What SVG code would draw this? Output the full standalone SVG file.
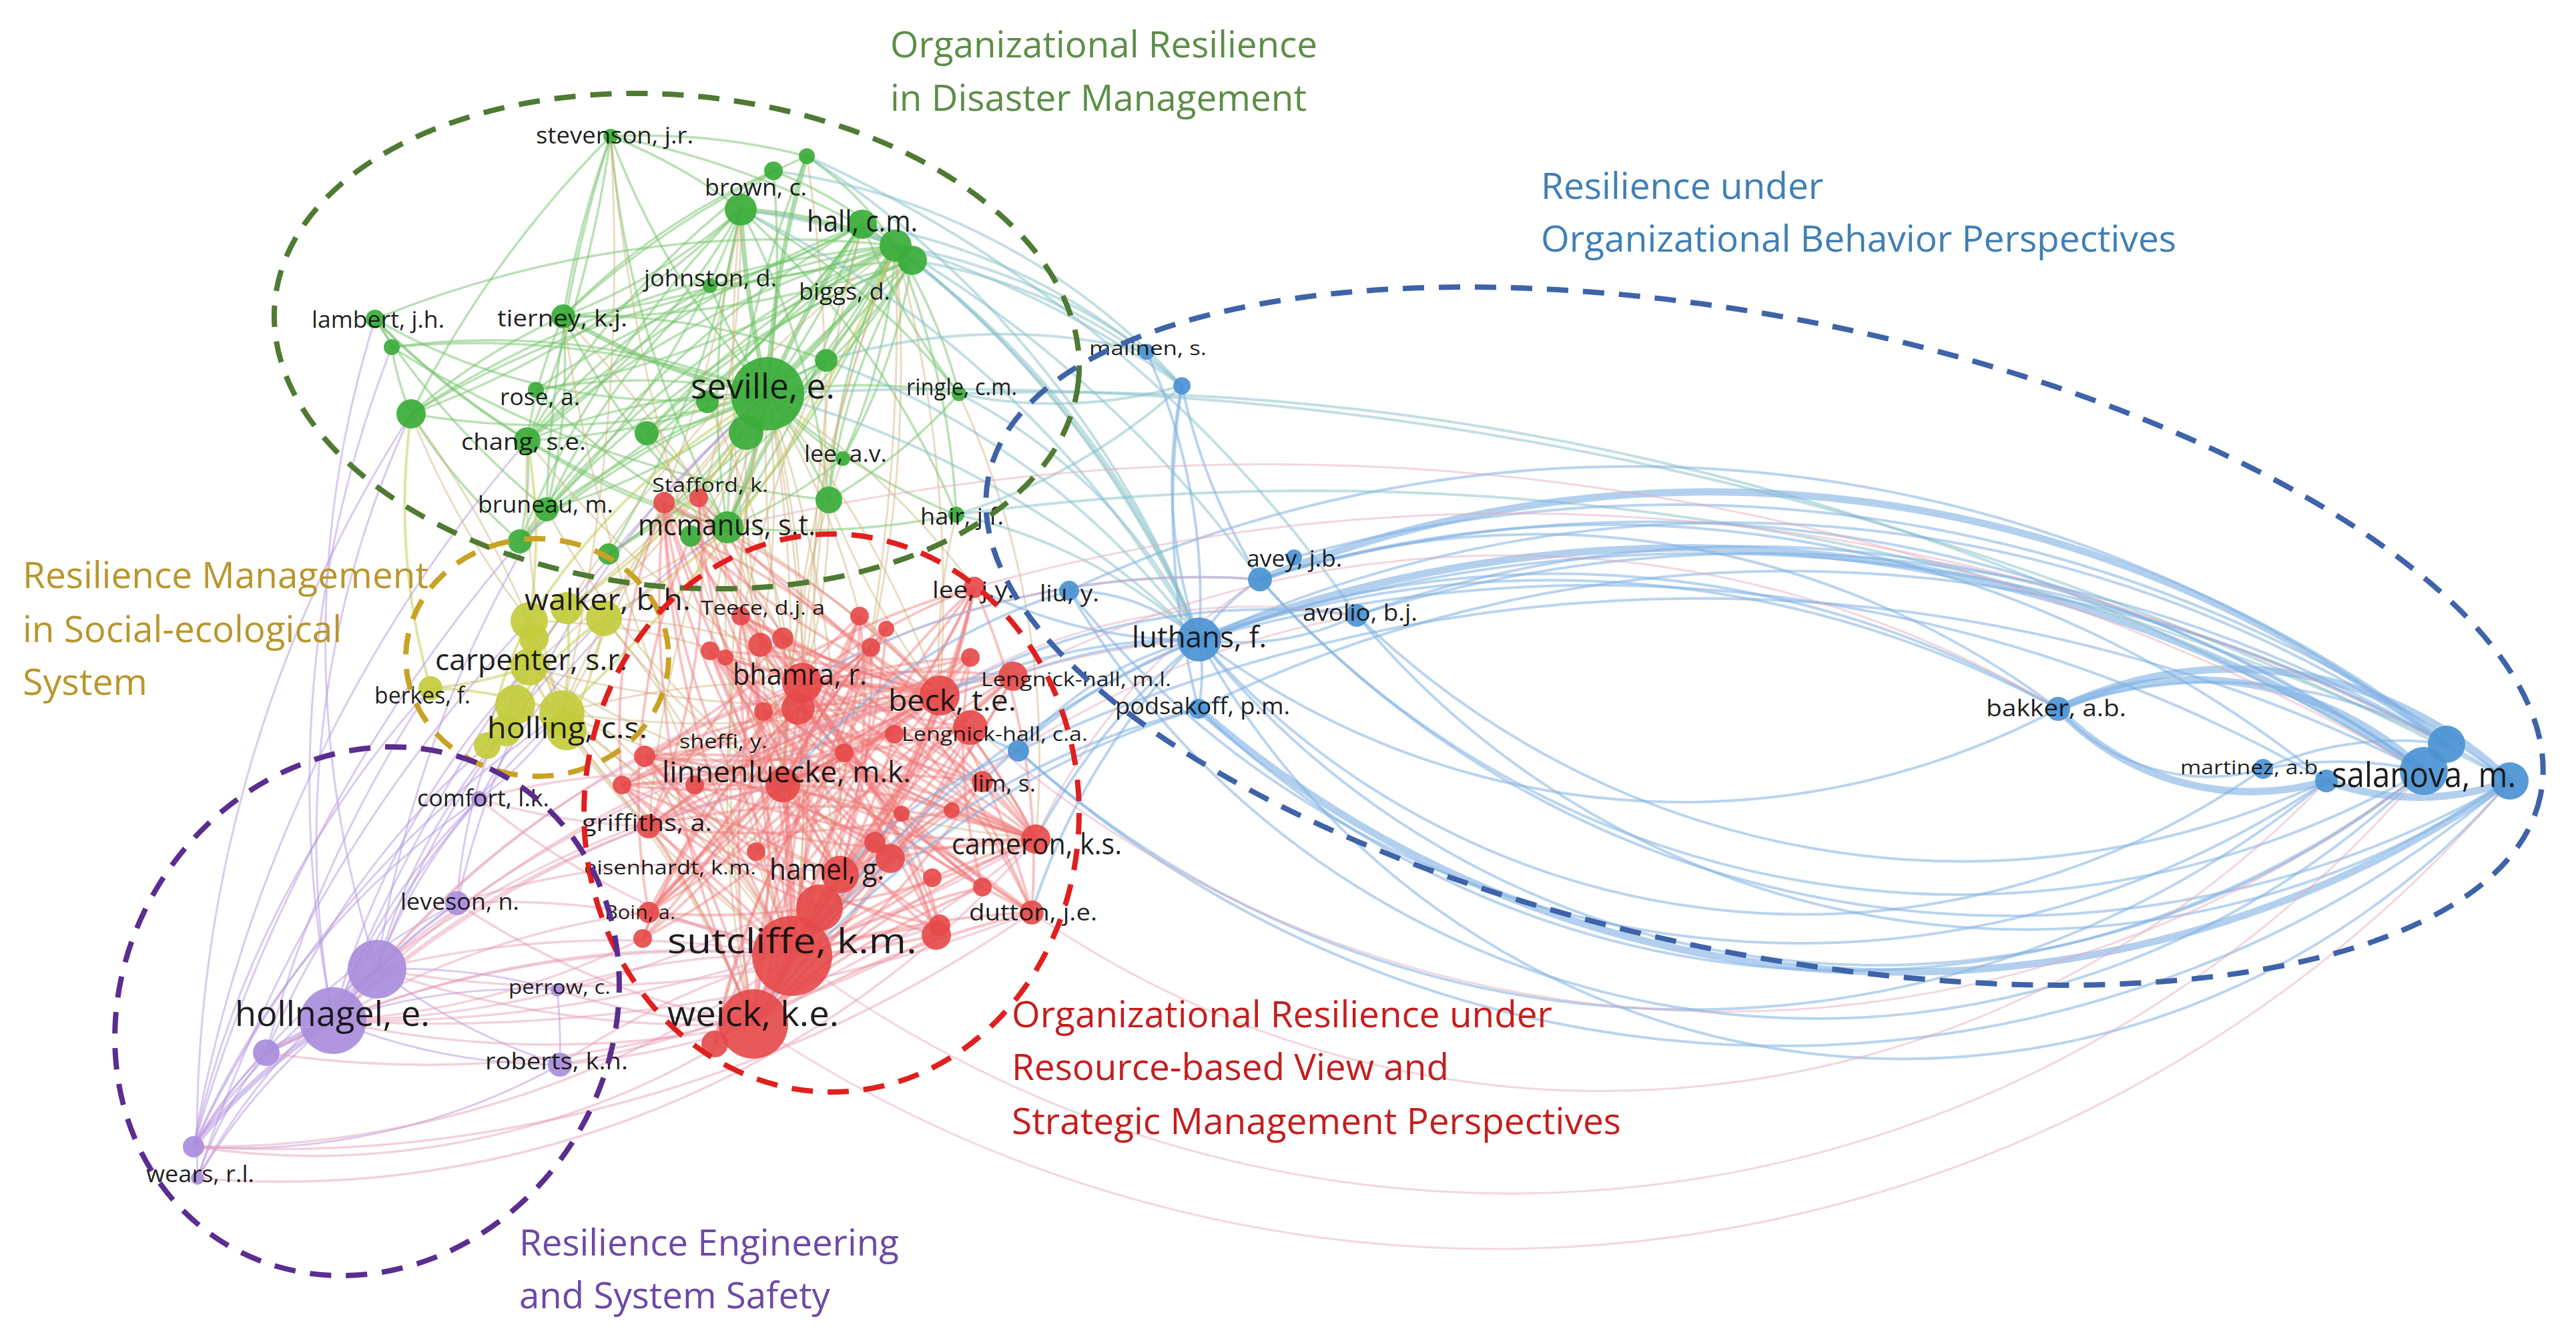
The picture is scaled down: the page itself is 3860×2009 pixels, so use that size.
<svg xmlns="http://www.w3.org/2000/svg" width="3860" height="2009" viewBox="0 0 3860 2009">
<style>
path{fill:none;stroke-linecap:round}
.eg path{stroke:#74c46a;stroke-opacity:.5;stroke-width:3.5}
.egt path{stroke:#6cc062;stroke-opacity:.55;stroke-width:7}
.eo path{stroke:#cdb27a;stroke-opacity:.45;stroke-width:3}
.er path{stroke:#f07a7a;stroke-opacity:.45;stroke-width:4}
.ert path{stroke:#f07070;stroke-opacity:.5;stroke-width:8}
.ey path{stroke:#c9cc5a;stroke-opacity:.55;stroke-width:4}
.ep path{stroke:#b596e0;stroke-opacity:.5;stroke-width:3}
.ept path{stroke:#b596e0;stroke-opacity:.55;stroke-width:8}
.epk path{stroke:#e59ab2;stroke-opacity:.45;stroke-width:3.5}
.eb path{stroke:#7fb0e2;stroke-opacity:.55;stroke-width:4}
.ebt path{stroke:#7fb0e2;stroke-opacity:.6;stroke-width:11}
.et path{stroke:#86c0c8;stroke-opacity:.5;stroke-width:4}
.ebk path{stroke:#e3a5b5;stroke-opacity:.45;stroke-width:3}
.ng circle{fill:#3aad3a;fill-opacity:.92}
.nr circle{fill:#e64848;fill-opacity:.9}
.ny circle{fill:#c3cc3c;fill-opacity:.92}
.nb circle{fill:#4b93d3;fill-opacity:.92}
.np circle{fill:#a98ddb;fill-opacity:.92}
text{font-family:'Open Sans','Liberation Sans',sans-serif}
.lab{fill:#111111;fill-opacity:.95}
.lx{font-size:51px}
.ll{font-size:43px}
.lm{font-size:35px}
.ls{font-size:29px}
.title{font-size:55px}
.hull{fill:none;stroke-width:8;stroke-dasharray:32 22}
</style>
<rect width="3860" height="2009" fill="#ffffff"/>

<g id="connectors">
<g class="eg">
<path d="M1150 590A1200 1200 0 0 1 915 204"/>
<path d="M1150 590A1500 1500 0 0 0 1159 256"/>
<path d="M1150 590A1200 1200 0 0 0 1292 336"/>
<path d="M1150 590A1200 1200 0 0 1 1367 390"/>
<path d="M1150 590A900 900 0 0 1 1064 428"/>
<path d="M1150 590A600 600 0 0 1 1238 540"/>
<path d="M1150 590A900 900 0 0 1 562 478"/>
<path d="M1150 590A1100 1100 0 0 0 587 520"/>
<path d="M1150 590A800 800 0 0 1 1437 590"/>
<path d="M1150 590A900 900 0 0 0 803 584"/>
<path d="M1150 590A1200 1200 0 0 1 616 620"/>
<path d="M1150 590A600 600 0 0 1 969 649"/>
<path d="M1150 590A900 900 0 0 0 790 660"/>
<path d="M1150 590A600 600 0 0 0 1263 687"/>
<path d="M1150 590A700 700 0 0 1 1242 749"/>
<path d="M1150 590A900 900 0 0 1 819 763"/>
<path d="M1150 590A900 900 0 0 0 1433 771"/>
<path d="M1150 590A1000 1000 0 0 0 779 811"/>
<path d="M1150 590A800 800 0 0 1 912 830"/>
<path d="M1342 368A1300 1300 0 0 0 915 204"/>
<path d="M1342 368A1600 1600 0 0 0 562 478"/>
<path d="M1342 368A1600 1600 0 0 0 616 620"/>
<path d="M1342 368A1400 1400 0 0 0 790 660"/>
<path d="M1342 368A1400 1400 0 0 1 803 584"/>
<path d="M1342 368A1400 1400 0 0 0 819 763"/>
<path d="M1342 368A1000 1000 0 0 0 1242 749"/>
<path d="M1342 368A1200 1200 0 0 1 1433 771"/>
<path d="M1342 368A800 800 0 0 1 1437 590"/>
<path d="M1342 368A1000 1000 0 0 1 1064 428"/>
<path d="M1342 368A1200 1200 0 0 0 969 649"/>
<path d="M1367 390A1300 1300 0 0 1 912 830"/>
<path d="M1367 390A1500 1500 0 0 0 779 811"/>
<path d="M1367 390A900 900 0 0 1 1263 687"/>
<path d="M1367 390A1200 1200 0 0 0 1090 790"/>
<path d="M1292 336A900 900 0 0 1 1064 428"/>
<path d="M1292 336A1200 1200 0 0 1 844 474"/>
<path d="M1292 336A1200 1200 0 0 1 969 649"/>
<path d="M1110 314A900 900 0 0 1 844 474"/>
<path d="M1110 314A1000 1000 0 0 1 790 660"/>
<path d="M1110 314A1200 1200 0 0 1 819 763"/>
<path d="M1110 314A1200 1200 0 0 0 1090 790"/>
<path d="M1110 314A1400 1400 0 0 1 616 620"/>
<path d="M1110 314A1200 1200 0 0 1 1242 749"/>
<path d="M915 204A1800 1800 0 0 1 790 660"/>
<path d="M915 204A2000 2000 0 0 0 819 763"/>
<path d="M915 204A800 800 0 0 1 1110 314"/>
<path d="M915 204A1000 1000 0 0 1 1209 234"/>
<path d="M915 204A1500 1500 0 0 0 1090 790"/>
<path d="M1209 234A500 500 0 0 1 1342 368"/>
<path d="M1159 256A600 600 0 0 1 1367 390"/>
<path d="M1209 234A1500 1500 0 0 0 1090 790"/>
<path d="M1159 256A1000 1000 0 0 0 844 474"/>
<path d="M562 478A200 200 0 0 1 587 520"/>
<path d="M587 520A400 400 0 0 0 616 620"/>
<path d="M616 620A800 800 0 0 0 779 811"/>
<path d="M562 478A1200 1200 0 0 0 1090 790"/>
<path d="M587 520A1500 1500 0 0 0 1242 749"/>
<path d="M844 474A700 700 0 0 0 790 660"/>
<path d="M844 474A900 900 0 0 1 819 763"/>
<path d="M844 474A1000 1000 0 0 0 1090 790"/>
<path d="M790 660A900 900 0 0 0 1090 790"/>
<path d="M790 660A500 500 0 0 1 779 811"/>
<path d="M803 584A1000 1000 0 0 0 1090 790"/>
<path d="M969 649A500 500 0 0 1 1090 790"/>
<path d="M1238 540A800 800 0 0 0 1090 790"/>
<path d="M1263 687A700 700 0 0 1 1090 790"/>
<path d="M1433 771A1200 1200 0 0 1 1090 790"/>
<path d="M1437 590A800 800 0 0 1 1242 749"/>
<path d="M844 474A900 900 0 0 0 616 620"/>
<path d="M562 478A1100 1100 0 0 0 790 660"/>
<path d="M562 478A1300 1300 0 0 0 819 763"/>
<path d="M587 520A1300 1300 0 0 1 1150 590"/>
<path d="M803 584A1300 1300 0 0 1 1342 368"/>
<path d="M969 649A1100 1100 0 0 1 1367 390"/>
<path d="M1064 428A900 900 0 0 0 790 660"/>
<path d="M1064 428A1000 1000 0 0 0 819 763"/>
<path d="M1238 540A1100 1100 0 0 1 790 660"/>
<path d="M1238 540A1000 1000 0 0 0 844 474"/>
<path d="M1263 687A900 900 0 0 0 1342 368"/>
<path d="M1242 749A900 900 0 0 1 1367 390"/>
<path d="M1433 771A1300 1300 0 0 0 1110 314"/>
<path d="M1437 590A1100 1100 0 0 0 1110 314"/>
<path d="M1060 602A900 900 0 0 1 1342 368"/>
<path d="M1118 648A1000 1000 0 0 0 1367 390"/>
<path d="M779 811A1300 1300 0 0 1 1150 590"/>
<path d="M912 830A1300 1300 0 0 0 1342 368"/>
<path d="M779 811A1600 1600 0 0 1 1292 336"/>
<path d="M915 204A1500 1500 0 0 0 844 474"/>
<path d="M915 204A1600 1600 0 0 0 616 620"/>
<path d="M1159 256A1300 1300 0 0 0 790 660"/>
<path d="M1209 234A1300 1300 0 0 0 844 474"/>
<path d="M1292 336A1500 1500 0 0 0 790 660"/>
<path d="M1292 336A1600 1600 0 0 1 819 763"/>
<path d="M1292 336A1300 1300 0 0 1 1090 790"/>
<path d="M1367 390A1700 1700 0 0 0 616 620"/>
<path d="M1367 390A1500 1500 0 0 1 844 474"/>
<path d="M1110 314A1500 1500 0 0 0 779 811"/>
<path d="M1110 314A1500 1500 0 0 1 912 830"/>
<path d="M1342 368A1000 1000 0 0 1 1238 540"/>
<path d="M1342 368A1300 1300 0 0 1 1090 790"/>
<path d="M1292 336A1100 1100 0 0 0 1437 590"/>
</g>
<g class="egt">
<path d="M1150 590A1200 1200 0 0 0 1342 368"/>
<path d="M1150 590A1500 1500 0 0 1 1110 314"/>
<path d="M1150 590A900 900 0 0 1 844 474"/>
<path d="M1150 590A800 800 0 0 1 1090 790"/>
<path d="M1342 368A700 700 0 0 0 1110 314"/>
<path d="M1150 590A1500 1500 0 0 1 1209 234"/>
<path d="M1150 590A1300 1300 0 0 1 1292 336"/>
</g>
<g class="eo">
<path d="M1150 590A900 900 0 0 0 995 753"/>
<path d="M1150 590A900 900 0 0 1 1035 803"/>
<path d="M1150 590A1200 1200 0 0 0 1110 923"/>
<path d="M1150 590A1200 1200 0 0 1 1139 966"/>
<path d="M1150 590A1500 1500 0 0 1 1202 1023"/>
<path d="M1150 590A1500 1500 0 0 0 1196 1061"/>
<path d="M1150 590A2000 2000 0 0 1 1173 1176"/>
<path d="M1150 590A1500 1500 0 0 1 1408 1042"/>
<path d="M1150 590A1200 1200 0 0 1 1288 923"/>
<path d="M1150 590A1500 1500 0 0 0 1064 975"/>
<path d="M1150 590A2500 2500 0 0 1 1187 1432"/>
<path d="M1150 590A2500 2500 0 0 0 1129 1534"/>
<path d="M1150 590A2000 2000 0 0 1 1259 1310"/>
<path d="M1150 590A1800 1800 0 0 0 972 1238"/>
<path d="M1150 590A1200 1200 0 0 0 905 926"/>
<path d="M1150 590A1200 1200 0 0 1 849 911"/>
<path d="M1150 590A1500 1500 0 0 0 842 1068"/>
<path d="M1150 590A1500 1500 0 0 1 793 999"/>
<path d="M1150 590A1200 1200 0 0 1 1460 880"/>
<path d="M1342 368A2000 2000 0 0 0 1202 1023"/>
<path d="M1342 368A2000 2000 0 0 1 1408 1042"/>
<path d="M1342 368A2500 2500 0 0 0 1173 1176"/>
<path d="M1342 368A3000 3000 0 0 1 1187 1432"/>
<path d="M1342 368A2000 2000 0 0 0 849 911"/>
<path d="M1342 368A2000 2000 0 0 1 1305 970"/>
<path d="M1110 314A2200 2200 0 0 0 1139 966"/>
<path d="M1110 314A2200 2200 0 0 1 842 1068"/>
<path d="M1110 314A1500 1500 0 0 1 1035 803"/>
<path d="M1090 790A1200 1200 0 0 1 1173 1176"/>
<path d="M1090 790A1500 1500 0 0 0 1187 1432"/>
<path d="M1090 790A800 800 0 0 1 849 911"/>
<path d="M1090 790A1500 1500 0 0 1 1408 1042"/>
<path d="M790 660A1500 1500 0 0 0 1202 1023"/>
<path d="M790 660A1200 1200 0 0 0 842 1068"/>
<path d="M915 204A3000 3000 0 0 0 1173 1176"/>
<path d="M915 204A3000 3000 0 0 1 842 1068"/>
<path d="M844 474A2500 2500 0 0 0 1187 1432"/>
<path d="M844 474A1800 1800 0 0 1 1202 1023"/>
<path d="M1242 749A900 900 0 0 1 1202 1023"/>
<path d="M1242 749A1200 1200 0 0 0 1408 1042"/>
<path d="M1263 687A1500 1500 0 0 0 1173 1176"/>
<path d="M616 620A1200 1200 0 0 0 793 930"/>
<path d="M616 620A1500 1500 0 0 1 842 1068"/>
<path d="M842 1068A1500 1500 0 0 0 1173 1176"/>
<path d="M842 1068A1500 1500 0 0 1 1187 1432"/>
<path d="M842 1068A1200 1200 0 0 1 1202 1023"/>
<path d="M842 1068A1500 1500 0 0 0 1408 1042"/>
<path d="M842 1068A1200 1200 0 0 0 1259 1310"/>
<path d="M842 1068A1500 1500 0 0 1 1129 1534"/>
<path d="M842 1068A800 800 0 0 0 972 1238"/>
<path d="M905 926A900 900 0 0 1 1139 966"/>
<path d="M905 926A1100 1100 0 0 0 1173 1176"/>
<path d="M905 926A1500 1500 0 0 1 1187 1432"/>
<path d="M793 999A1500 1500 0 0 0 1408 1042"/>
<path d="M793 999A1800 1800 0 0 0 1552 1257"/>
<path d="M793 999A1500 1500 0 0 1 1187 1432"/>
<path d="M849 1094A1500 1500 0 0 0 1187 1432"/>
<path d="M849 1094A1500 1500 0 0 1 1129 1534"/>
<path d="M793 930A1000 1000 0 0 1 1202 1023"/>
<path d="M1060 602A1400 1400 0 0 1 1187 1432"/>
<path d="M1118 648A1400 1400 0 0 0 1259 1310"/>
<path d="M969 649A1200 1200 0 0 1 1173 1176"/>
<path d="M1292 336A2200 2200 0 0 0 1259 1310"/>
<path d="M1209 234A2500 2500 0 0 1 1202 1023"/>
<path d="M819 763A1300 1300 0 0 0 1173 1176"/>
<path d="M1238 540A1500 1500 0 0 0 1129 1534"/>
<path d="M1433 771A900 900 0 0 0 1408 1042"/>
<path d="M1437 590A1300 1300 0 0 1 1552 1257"/>
</g>
<g class="ey">
<path d="M793 930A400 400 0 0 1 793 999"/>
<path d="M793 930A500 500 0 0 0 842 1068"/>
<path d="M849 911A500 500 0 0 1 842 1068"/>
<path d="M905 926A500 500 0 0 1 849 1094"/>
<path d="M800 957A500 500 0 0 0 758 1094"/>
<path d="M793 999A400 400 0 0 0 849 1094"/>
<path d="M645 1031A600 600 0 0 1 842 1068"/>
<path d="M645 1031A600 600 0 0 0 793 999"/>
<path d="M772 1056A400 400 0 0 0 849 1094"/>
<path d="M849 911A600 600 0 0 0 758 1094"/>
<path d="M905 926A600 600 0 0 0 772 1056"/>
<path d="M793 930A600 600 0 0 0 730 1117"/>
<path d="M793 930A1000 1000 0 0 1 1150 590"/>
<path d="M793 930A800 800 0 0 0 790 660"/>
<path d="M849 911A900 900 0 0 0 1150 590"/>
<path d="M905 926A800 800 0 0 0 1090 790"/>
<path d="M645 1031A1000 1000 0 0 1 616 620"/>
<path d="M842 1068A2000 2000 0 0 0 1342 368"/>
</g>
<g class="er">
<path d="M1187 1432A1400 1400 0 0 1 995 753"/>
<path d="M1187 1432A1400 1400 0 0 0 1035 803"/>
<path d="M1187 1432A1400 1400 0 0 1 1110 923"/>
<path d="M1187 1432A1400 1400 0 0 0 1064 975"/>
<path d="M1187 1432A1400 1400 0 0 1 1139 966"/>
<path d="M1187 1432A1400 1400 0 0 0 1202 1023"/>
<path d="M1187 1432A1400 1400 0 0 1 1196 1061"/>
<path d="M1187 1432A1400 1400 0 0 0 1408 1042"/>
<path d="M1187 1432A1400 1400 0 0 1 1454 1090"/>
<path d="M1187 1432A1400 1400 0 0 0 1518 1013"/>
<path d="M1187 1432A1400 1400 0 0 1 1460 880"/>
<path d="M1187 1432A1400 1400 0 0 0 966 1133"/>
<path d="M1187 1432A1400 1400 0 0 1 932 1176"/>
<path d="M1187 1432A1400 1400 0 0 1 1472 1171"/>
<path d="M1187 1432A1400 1400 0 0 0 972 1238"/>
<path d="M1187 1432A1400 1400 0 0 1 1552 1257"/>
<path d="M1187 1432A1400 1400 0 0 0 1334 1286"/>
<path d="M1187 1432A1400 1400 0 0 1 1546 1367"/>
<path d="M1187 1432A1400 1400 0 0 0 972 1367"/>
<path d="M1187 1432A1400 1400 0 0 1 1472 1329"/>
<path d="M1187 1432A1400 1400 0 0 0 1288 923"/>
<path d="M1187 1432A1400 1400 0 0 1 1305 970"/>
<path d="M1187 1432A1400 1400 0 0 0 1454 985"/>
<path d="M1187 1432A1400 1400 0 0 1 1328 942"/>
<path d="M1187 1432A1400 1400 0 0 0 1351 1219"/>
<path d="M1187 1432A1400 1400 0 0 1 1426 1214"/>
<path d="M1129 1534A1500 1500 0 0 1 995 753"/>
<path d="M1129 1534A1500 1500 0 0 0 1110 923"/>
<path d="M1129 1534A1500 1500 0 0 1 1139 966"/>
<path d="M1129 1534A1500 1500 0 0 0 1202 1023"/>
<path d="M1129 1534A1500 1500 0 0 1 1408 1042"/>
<path d="M1129 1534A1500 1500 0 0 0 1454 1090"/>
<path d="M1129 1534A1500 1500 0 0 0 972 1238"/>
<path d="M1129 1534A1500 1500 0 0 1 1552 1257"/>
<path d="M1129 1534A1500 1500 0 0 0 1259 1310"/>
<path d="M1129 1534A1500 1500 0 0 1 1546 1367"/>
<path d="M1129 1534A1500 1500 0 0 0 966 1133"/>
<path d="M1129 1534A1500 1500 0 0 1 1288 923"/>
<path d="M1129 1534A1500 1500 0 0 0 1460 880"/>
<path d="M1129 1534A1500 1500 0 0 1 1518 1013"/>
<path d="M1129 1534A1500 1500 0 0 0 1472 1171"/>
<path d="M1129 1534A1500 1500 0 0 1 1305 970"/>
<path d="M1173 1176A1000 1000 0 0 1 1047 746"/>
<path d="M1173 1176A1000 1000 0 0 0 1288 923"/>
<path d="M1173 1176A1000 1000 0 0 1 1328 942"/>
<path d="M1173 1176A1000 1000 0 0 0 1173 956"/>
<path d="M1173 1176A1000 1000 0 0 1 1305 970"/>
<path d="M1173 1176A1000 1000 0 0 0 1454 985"/>
<path d="M1173 1176A1000 1000 0 0 1 1518 1013"/>
<path d="M1173 1176A1000 1000 0 0 1 1340 1100"/>
<path d="M1173 1176A1000 1000 0 0 0 966 1133"/>
<path d="M1173 1176A1000 1000 0 0 1 932 1176"/>
<path d="M1173 1176A1000 1000 0 0 0 1265 1128"/>
<path d="M1173 1176A1000 1000 0 0 1 1472 1171"/>
<path d="M1173 1176A1000 1000 0 0 0 972 1238"/>
<path d="M1173 1176A1000 1000 0 0 1 1552 1257"/>
<path d="M1173 1176A1000 1000 0 0 0 1334 1286"/>
<path d="M1173 1176A1000 1000 0 0 1 1259 1310"/>
<path d="M1173 1176A1000 1000 0 0 0 972 1367"/>
<path d="M1173 1176A1000 1000 0 0 1 1546 1367"/>
<path d="M1173 1176A1000 1000 0 0 0 1408 1386"/>
<path d="M1173 1176A1000 1000 0 0 1 963 1406"/>
<path d="M1408 1042A1200 1200 0 0 1 1110 923"/>
<path d="M1408 1042A1200 1200 0 0 0 1064 975"/>
<path d="M1408 1042A1200 1200 0 0 1 1087 985"/>
<path d="M1408 1042A1200 1200 0 0 0 1139 966"/>
<path d="M1408 1042A1200 1200 0 0 1 1173 956"/>
<path d="M1408 1042A1200 1200 0 0 0 1202 1023"/>
<path d="M1408 1042A1200 1200 0 0 1 1144 1066"/>
<path d="M1408 1042A1200 1200 0 0 0 966 1133"/>
<path d="M1408 1042A1200 1200 0 0 1 932 1176"/>
<path d="M1408 1042A1200 1200 0 0 0 972 1238"/>
<path d="M1408 1042A1200 1200 0 0 1 1552 1257"/>
<path d="M1408 1042A1200 1200 0 0 0 1133 1276"/>
<path d="M1408 1042A1200 1200 0 0 1 1259 1310"/>
<path d="M1408 1042A1200 1200 0 0 0 972 1367"/>
<path d="M1408 1042A1200 1200 0 0 1 1546 1367"/>
<path d="M1408 1042A1200 1200 0 0 0 1460 880"/>
<path d="M1408 1042A1200 1200 0 0 1 1454 985"/>
<path d="M1408 1042A1200 1200 0 0 1 1035 803"/>
<path d="M1408 1042A1200 1200 0 0 0 995 753"/>
<path d="M1202 1023A1100 1100 0 0 1 995 753"/>
<path d="M1202 1023A1100 1100 0 0 0 1035 803"/>
<path d="M1202 1023A1100 1100 0 0 1 1460 880"/>
<path d="M1202 1023A1100 1100 0 0 0 1454 985"/>
<path d="M1202 1023A1100 1100 0 0 1 1518 1013"/>
<path d="M1202 1023A1100 1100 0 0 0 1454 1090"/>
<path d="M1202 1023A1100 1100 0 0 1 932 1176"/>
<path d="M1202 1023A1100 1100 0 0 0 1472 1171"/>
<path d="M1202 1023A1100 1100 0 0 1 972 1238"/>
<path d="M1202 1023A1100 1100 0 0 0 1552 1257"/>
<path d="M1202 1023A1100 1100 0 0 1 1334 1286"/>
<path d="M1202 1023A1100 1100 0 0 0 1472 1329"/>
<path d="M1202 1023A1100 1100 0 0 1 972 1367"/>
<path d="M1202 1023A1100 1100 0 0 0 1546 1367"/>
<path d="M1202 1023A1100 1100 0 0 1 963 1406"/>
<path d="M1259 1310A1000 1000 0 0 1 1110 923"/>
<path d="M1259 1310A1000 1000 0 0 0 1288 923"/>
<path d="M1259 1310A1000 1000 0 0 1 1064 975"/>
<path d="M1259 1310A1000 1000 0 0 0 1305 970"/>
<path d="M1259 1310A1000 1000 0 0 1 1518 1013"/>
<path d="M1259 1310A1000 1000 0 0 0 1454 1090"/>
<path d="M1259 1310A1000 1000 0 0 1 966 1133"/>
<path d="M1259 1310A1000 1000 0 0 0 1472 1171"/>
<path d="M1259 1310A1000 1000 0 0 1 1552 1257"/>
<path d="M1259 1310A1000 1000 0 0 0 1460 880"/>
<path d="M1259 1310A1000 1000 0 0 1 995 753"/>
<path d="M1552 1257A1100 1100 0 0 0 1110 923"/>
<path d="M1552 1257A1100 1100 0 0 1 1064 975"/>
<path d="M1552 1257A1100 1100 0 0 0 1139 966"/>
<path d="M1552 1257A1100 1100 0 0 1 1144 1066"/>
<path d="M1552 1257A1100 1100 0 0 0 966 1133"/>
<path d="M1552 1257A1100 1100 0 0 1 932 1176"/>
<path d="M1552 1257A1100 1100 0 0 0 972 1238"/>
<path d="M1552 1257A1100 1100 0 0 1 972 1367"/>
<path d="M1552 1257A1100 1100 0 0 0 1288 923"/>
<path d="M1552 1257A1100 1100 0 0 1 1047 746"/>
<path d="M995 753A900 900 0 0 0 932 1176"/>
<path d="M1047 746A1000 1000 0 0 1 972 1238"/>
<path d="M1035 803A1000 1000 0 0 0 972 1367"/>
<path d="M1460 880A1000 1000 0 0 1 1546 1367"/>
<path d="M1454 985A800 800 0 0 0 1472 1329"/>
<path d="M1288 923A1000 1000 0 0 1 972 1367"/>
<path d="M1305 970A1000 1000 0 0 0 963 1406"/>
<path d="M1173 956A1000 1000 0 0 1 1408 1386"/>
<path d="M1328 942A1000 1000 0 0 0 1133 1276"/>
<path d="M1340 1100A1000 1000 0 0 1 1071 1564"/>
<path d="M1265 1128A1000 1000 0 0 0 1071 1564"/>
<path d="M1403 1401A1000 1000 0 0 1 966 1133"/>
<path d="M1403 1401A1000 1000 0 0 0 1064 975"/>
<path d="M1228 1360A1000 1000 0 0 1 995 753"/>
<path d="M1228 1360A1000 1000 0 0 0 1460 880"/>
<path d="M1228 1360A1000 1000 0 0 1 932 1176"/>
<path d="M1228 1360A1000 1000 0 0 0 1518 1013"/>
<path d="M1071 1564A1000 1000 0 0 1 1518 1013"/>
<path d="M1087 985A900 900 0 0 0 1472 1171"/>
<path d="M1110 923A900 900 0 0 1 1546 1367"/>
<path d="M1144 1066A900 900 0 0 1 1552 1257"/>
<path d="M1110 923A1300 1300 0 0 0 1546 1367"/>
<path d="M1087 985A1300 1300 0 0 1 1472 1171"/>
<path d="M1139 966A1300 1300 0 0 0 1472 1329"/>
<path d="M1173 956A1300 1300 0 0 0 972 1238"/>
<path d="M1305 970A1300 1300 0 0 1 932 1176"/>
<path d="M1196 1061A1300 1300 0 0 0 1552 1257"/>
<path d="M1196 1061A1300 1300 0 0 1 972 1367"/>
<path d="M1454 985A1300 1300 0 0 1 966 1133"/>
<path d="M1518 1013A1300 1300 0 0 0 932 1176"/>
<path d="M1454 1090A1300 1300 0 0 1 966 1133"/>
<path d="M1340 1100A1300 1300 0 0 0 972 1238"/>
<path d="M1144 1066A1300 1300 0 0 0 1546 1367"/>
<path d="M1041 1176A1300 1300 0 0 1 1408 1042"/>
<path d="M1041 1176A1300 1300 0 0 0 1552 1257"/>
<path d="M1265 1128A1300 1300 0 0 1 972 1367"/>
<path d="M1351 1219A1300 1300 0 0 0 932 1176"/>
<path d="M1426 1214A1300 1300 0 0 1 972 1238"/>
<path d="M1311 1262A1300 1300 0 0 0 966 1133"/>
<path d="M1311 1262A1300 1300 0 0 1 995 753"/>
<path d="M1133 1276A1300 1300 0 0 0 1518 1013"/>
<path d="M1334 1286A1300 1300 0 0 1 1064 975"/>
<path d="M1397 1315A1300 1300 0 0 0 966 1133"/>
<path d="M1472 1329A1300 1300 0 0 1 1064 975"/>
<path d="M1408 1386A1300 1300 0 0 0 1110 923"/>
<path d="M1228 1360A1300 1300 0 0 1 966 1133"/>
<path d="M1047 746A1300 1300 0 0 0 1408 1042"/>
<path d="M1035 803A1300 1300 0 0 1 1552 1257"/>
<path d="M1460 880A1300 1300 0 0 0 932 1176"/>
<path d="M1288 923A1300 1300 0 0 0 963 1406"/>
<path d="M1328 942A1300 1300 0 0 1 972 1367"/>
<path d="M1403 1401A1300 1300 0 0 0 1202 1023"/>
<path d="M1403 1401A1300 1300 0 0 1 995 753"/>
<path d="M1071 1564A1300 1300 0 0 0 1408 1042"/>
<path d="M1071 1564A1300 1300 0 0 1 1460 880"/>
<path d="M1129 1534A1300 1300 0 0 0 1334 1286"/>
<path d="M1129 1534A1300 1300 0 0 1 1472 1329"/>
<path d="M1129 1534A1300 1300 0 0 0 1328 942"/>
<path d="M1187 1432A1300 1300 0 0 1 1408 1386"/>
<path d="M1187 1432A1300 1300 0 0 0 1403 1401"/>
<path d="M1187 1432A1300 1300 0 0 1 1311 1262"/>
<path d="M1187 1432A1300 1300 0 0 0 1397 1315"/>
<path d="M995 753A1200 1200 0 0 1 1546 1367"/>
<path d="M1047 746A1200 1200 0 0 0 1472 1329"/>
<path d="M1110 923A1100 1100 0 0 1 1403 1401"/>
<path d="M1064 975A1100 1100 0 0 0 1552 1257"/>
<path d="M966 1133A1100 1100 0 0 1 1454 985"/>
<path d="M932 1176A1100 1100 0 0 0 1408 1386"/>
<path d="M972 1238A1100 1100 0 0 1 1518 1013"/>
<path d="M963 1406A1100 1100 0 0 0 1460 880"/>
<path d="M972 1367A1100 1100 0 0 1 1305 970"/>
<path d="M1133 1276A1000 1000 0 0 0 1460 880"/>
<path d="M1041 1176A1000 1000 0 0 1 1454 1090"/>
</g>
<g class="ert">
<path d="M1187 1432A1400 1400 0 0 0 1173 1176"/>
<path d="M1187 1432A900 900 0 0 1 1129 1534"/>
<path d="M1173 1176A1000 1000 0 0 0 1408 1042"/>
<path d="M1202 1023A1000 1000 0 0 1 1408 1042"/>
<path d="M1187 1432A1000 1000 0 0 1 1259 1310"/>
</g>
<g class="ep">
<path d="M499 1529A800 800 0 0 1 399 1577"/>
<path d="M499 1529A900 900 0 0 0 296 1765"/>
<path d="M499 1529A900 900 0 0 1 685 1353"/>
<path d="M499 1529A900 900 0 0 1 718 1197"/>
<path d="M499 1529A900 900 0 0 1 835 1483"/>
<path d="M499 1529A900 900 0 0 0 839 1595"/>
<path d="M565 1452A800 800 0 0 1 685 1353"/>
<path d="M565 1452A800 800 0 0 1 718 1197"/>
<path d="M565 1452A900 900 0 0 0 290 1718"/>
<path d="M565 1452A900 900 0 0 1 835 1483"/>
<path d="M565 1452A900 900 0 0 0 839 1595"/>
<path d="M399 1577A600 600 0 0 0 290 1718"/>
<path d="M399 1577A600 600 0 0 0 296 1765"/>
<path d="M290 1718A1000 1000 0 0 1 685 1353"/>
<path d="M290 1718A1000 1000 0 0 0 839 1595"/>
<path d="M290 1718A1200 1200 0 0 1 718 1197"/>
<path d="M296 1765A1000 1000 0 0 1 565 1452"/>
<path d="M499 1529A1500 1500 0 0 1 842 1068"/>
<path d="M499 1529A1200 1200 0 0 1 793 999"/>
<path d="M499 1529A1500 1500 0 0 1 616 620"/>
<path d="M499 1529A2500 2500 0 0 1 1150 590"/>
<path d="M290 1718A1500 1500 0 0 1 645 1031"/>
<path d="M290 1718A1600 1600 0 0 1 842 1068"/>
<path d="M290 1718A2200 2200 0 0 1 790 660"/>
<path d="M399 1577A1200 1200 0 0 1 730 1117"/>
<path d="M296 1765A2000 2000 0 0 1 616 620"/>
<path d="M718 1197A500 500 0 0 0 842 1068"/>
<path d="M685 1353A800 800 0 0 1 793 999"/>
<path d="M565 1452A900 900 0 0 1 758 1094"/>
<path d="M565 1452A1800 1800 0 0 1 819 763"/>
<path d="M839 1595A900 900 0 0 0 835 1483"/>
<path d="M565 1452A1600 1600 0 0 1 562 478"/>
<path d="M499 1529A1800 1800 0 0 1 587 520"/>
<path d="M290 1718A2400 2400 0 0 1 779 811"/>
<path d="M399 1577A1800 1800 0 0 1 645 1031"/>
<path d="M565 1452A1400 1400 0 0 1 905 926"/>
<path d="M685 1353A1400 1400 0 0 1 1150 590"/>
<path d="M718 1197A1200 1200 0 0 1 1090 790"/>
<path d="M296 1765A2200 2200 0 0 1 793 930"/>
</g>
<g class="ept">
<path d="M499 1529A400 400 0 0 1 565 1452"/>
<path d="M499 1529A900 900 0 0 0 290 1718"/>
<path d="M499 1529A600 600 0 0 0 399 1577"/>
</g>
<g class="epk">
<path d="M499 1529A1500 1500 0 0 1 1187 1432"/>
<path d="M499 1529A1500 1500 0 0 0 1129 1534"/>
<path d="M499 1529A1200 1200 0 0 1 972 1367"/>
<path d="M499 1529A1200 1200 0 0 0 963 1406"/>
<path d="M499 1529A1300 1300 0 0 1 972 1238"/>
<path d="M499 1529A1500 1500 0 0 0 1259 1310"/>
<path d="M499 1529A1500 1500 0 0 1 1173 1176"/>
<path d="M499 1529A2000 2000 0 0 0 1552 1257"/>
<path d="M499 1529A2500 2500 0 0 0 1546 1367"/>
<path d="M565 1452A1500 1500 0 0 1 1187 1432"/>
<path d="M565 1452A1500 1500 0 0 0 1129 1534"/>
<path d="M565 1452A1500 1500 0 0 1 1202 1023"/>
<path d="M565 1452A1500 1500 0 0 1 1173 1176"/>
<path d="M565 1452A1300 1300 0 0 1 966 1133"/>
<path d="M565 1452A2000 2000 0 0 1 1408 1042"/>
<path d="M685 1353A1200 1200 0 0 1 1187 1432"/>
<path d="M685 1353A1200 1200 0 0 0 1129 1534"/>
<path d="M685 1353A1200 1200 0 0 1 1259 1310"/>
<path d="M839 1595A1200 1200 0 0 0 1129 1534"/>
<path d="M839 1595A1200 1200 0 0 1 1187 1432"/>
<path d="M839 1595A1500 1500 0 0 0 1552 1257"/>
<path d="M835 1483A1000 1000 0 0 1 1187 1432"/>
<path d="M835 1483A1000 1000 0 0 0 1129 1534"/>
<path d="M718 1197A1000 1000 0 0 1 1173 1176"/>
<path d="M718 1197A1000 1000 0 0 0 972 1238"/>
<path d="M718 1197A1200 1200 0 0 0 1187 1432"/>
<path d="M290 1718A1200 1200 0 0 0 1129 1534"/>
<path d="M290 1718A1500 1500 0 0 0 1187 1432"/>
<path d="M296 1765A1500 1500 0 0 0 1552 1257"/>
<path d="M399 1577A1600 1600 0 0 0 1403 1401"/>
<path d="M290 1718A2000 2000 0 0 0 1546 1367"/>
<path d="M565 1452A1700 1700 0 0 0 1408 1386"/>
<path d="M499 1529A1700 1700 0 0 1 1408 1042"/>
<path d="M399 1577A1400 1400 0 0 1 1187 1432"/>
</g>
<g class="et">
<path d="M1342 368A1500 1500 0 0 1 1797 958"/>
<path d="M1367 390A1300 1300 0 0 1 1797 958"/>
<path d="M1292 336A900 900 0 0 1 1771 578"/>
<path d="M1150 590A1500 1500 0 0 1 1797 958"/>
<path d="M1437 590A800 800 0 0 1 1797 958"/>
<path d="M1433 771A800 800 0 0 1 1797 958"/>
<path d="M1238 540A1200 1200 0 0 1 1797 958"/>
<path d="M1342 368A900 900 0 0 1 1718 527"/>
<path d="M1209 234A1500 1500 0 0 1 1797 958"/>
<path d="M1110 314A1500 1500 0 0 1 1771 578"/>
<path d="M1437 590A4000 4000 0 0 1 3632 1155"/>
<path d="M1433 771A4000 4000 0 0 1 3666 1115"/>
<path d="M1150 590A5000 5000 0 0 1 3761 1170"/>
<path d="M1292 336A1400 1400 0 0 1 1797 958"/>
<path d="M1110 314A1600 1600 0 0 1 1797 958"/>
<path d="M1159 256A1000 1000 0 0 1 1771 578"/>
<path d="M1367 390A800 800 0 0 1 1771 578"/>
<path d="M1238 540A900 900 0 0 1 1718 527"/>
<path d="M1437 590A700 700 0 0 0 1771 578"/>
<path d="M1433 771A900 900 0 0 0 1771 578"/>
<path d="M1342 368A1800 1800 0 0 1 1888 868"/>
<path d="M1209 234A2000 2000 0 0 1 2033 922"/>
</g>
<g class="eb">
<path d="M1797 958A1900 1900 0 0 1 3666 1115"/>
<path d="M1797 958A2300 2300 0 0 1 3761 1170"/>
<path d="M1888 868A2000 2000 0 0 1 3632 1155"/>
<path d="M1939 835A2100 2100 0 0 1 3761 1170"/>
<path d="M2033 922A1700 1700 0 0 1 3632 1155"/>
<path d="M2033 922A2000 2000 0 0 1 3666 1115"/>
<path d="M1797 958A2200 2200 0 0 1 3486 1170"/>
<path d="M1602 885A2000 2000 0 0 1 3666 1115"/>
<path d="M1796 1062A2000 2000 0 0 1 3666 1115"/>
<path d="M1526 1125A2400 2400 0 0 1 3632 1155"/>
<path d="M1888 868A1700 1700 0 0 1 3486 1170"/>
<path d="M1797 958A1300 1300 0 0 0 3632 1155"/>
<path d="M1796 1062A1400 1400 0 0 0 3632 1155"/>
<path d="M1526 1125A1500 1500 0 0 0 3486 1170"/>
<path d="M1602 885A1300 1300 0 0 0 3632 1155"/>
<path d="M1797 958A1200 1200 0 0 0 3761 1170"/>
<path d="M2033 922A1300 1300 0 0 0 3486 1170"/>
<path d="M1888 868A1500 1500 0 0 0 3761 1170"/>
<path d="M1888 868A1400 1400 0 0 0 3632 1155"/>
<path d="M2033 922A1300 1300 0 0 0 3761 1170"/>
<path d="M1602 885A1400 1400 0 0 0 3486 1170"/>
<path d="M1797 958A1200 1200 0 0 0 3391 1152"/>
<path d="M1526 1125A1700 1700 0 0 0 3761 1170"/>
<path d="M3084 1062A700 700 0 0 1 3666 1115"/>
<path d="M3084 1062A300 300 0 0 0 3391 1152"/>
<path d="M3391 1152A600 600 0 0 1 3632 1155"/>
<path d="M3391 1152A500 500 0 0 1 3666 1115"/>
<path d="M1797 958A1600 1600 0 0 1 3084 1062"/>
<path d="M1797 958A1200 1200 0 0 0 3084 1062"/>
<path d="M1888 868A1300 1300 0 0 1 3084 1062"/>
<path d="M1718 527A900 900 0 0 1 1797 958"/>
<path d="M1771 578A700 700 0 0 0 1797 958"/>
<path d="M1771 578A900 900 0 0 0 1888 868"/>
<path d="M1771 578A1200 1200 0 0 0 1796 1062"/>
<path d="M1797 958A900 900 0 0 0 1408 1042"/>
<path d="M1797 958A900 900 0 0 0 1518 1013"/>
<path d="M1797 958A700 700 0 0 1 1460 880"/>
<path d="M1797 958A900 900 0 0 0 1472 1171"/>
<path d="M1797 958A1000 1000 0 0 0 1552 1257"/>
<path d="M1797 958A1500 1500 0 0 0 1187 1432"/>
<path d="M1797 958A1000 1000 0 0 0 1546 1367"/>
<path d="M1796 1062A1200 1200 0 0 0 1187 1432"/>
<path d="M1796 1062A1300 1300 0 0 0 1129 1534"/>
<path d="M1602 885A900 900 0 0 0 1173 1176"/>
<path d="M1526 1125A300 300 0 0 1 1454 1090"/>
<path d="M1526 1125A700 700 0 0 0 1259 1310"/>
<path d="M2033 922A1000 1000 0 0 0 1408 1042"/>
<path d="M1888 868A1200 1200 0 0 0 1202 1023"/>
<path d="M1797 958A300 300 0 0 1 1888 868"/>
<path d="M1797 958A400 400 0 0 0 2033 922"/>
<path d="M1797 958A300 300 0 0 1 1796 1062"/>
<path d="M1797 958A300 300 0 0 0 1602 885"/>
<path d="M1797 958A500 500 0 0 0 1526 1125"/>
<path d="M3084 1062A1500 1500 0 0 0 1797 958"/>
</g>
<g class="ebt">
<path d="M1797 958A2000 2000 0 0 1 3632 1155"/>
<path d="M1888 868A1800 1800 0 0 1 3666 1115"/>
<path d="M1796 1062A1600 1600 0 0 0 3761 1170"/>
<path d="M3084 1062A500 500 0 0 1 3632 1155"/>
<path d="M3084 1062A400 400 0 0 0 3486 1170"/>
<path d="M3084 1062A600 600 0 0 1 3761 1170"/>
<path d="M3486 1170A400 400 0 0 0 3761 1170"/>
</g>
<g class="ebk">
<path d="M1460 880A3000 3000 0 0 1 3666 1115"/>
<path d="M1408 1042A1700 1700 0 0 0 3632 1155"/>
<path d="M1187 1432A1800 1800 0 0 0 3632 1155"/>
<path d="M1129 1534A2000 2000 0 0 0 3761 1170"/>
<path d="M1546 1367A1500 1500 0 0 0 3486 1170"/>
<path d="M1090 790A3500 3500 0 0 1 3632 1155"/>
<path d="M1518 1013A1600 1600 0 0 1 3084 1062"/>
<path d="M1408 1042A900 900 0 0 1 2033 922"/>
<path d="M1202 1023A1200 1200 0 0 1 1888 868"/>
<path d="M1173 1176A1300 1300 0 0 1 1797 958"/>
<path d="M1187 1432A1400 1400 0 0 1 2033 922"/>
<path d="M1552 1257A900 900 0 0 1 1888 868"/>
</g>
</g>

<g id="nodes">
<g id="n-stevenson" class="ng"><circle cx="915" cy="204" r="11"/><text class="lab lm" x="803" y="215" textLength="236" lengthAdjust="spacingAndGlyphs">stevenson, j.r.</text></g>
<g id="n-g2" class="ng"><circle cx="1209" cy="234" r="12"/></g>
<g id="n-g3" class="ng"><circle cx="1159" cy="256" r="14"/></g>
<g id="n-brown" class="ng"><circle cx="1110" cy="314" r="24"/><text class="lab lm" x="1056" y="293" textLength="153" lengthAdjust="spacingAndGlyphs">brown, c.</text></g>
<g id="n-hall" class="ng"><circle cx="1292" cy="336" r="22"/><circle cx="1342" cy="368" r="24"/><circle cx="1367" cy="390" r="22"/><text class="lab ll" x="1209" y="347" textLength="166" lengthAdjust="spacingAndGlyphs">hall, c.m.</text></g>
<g id="n-johnston" class="ng"><circle cx="1064" cy="428" r="11"/><text class="lab lm" x="965" y="429" textLength="199" lengthAdjust="spacingAndGlyphs">johnston, d.</text></g>
<g id="n-biggs" class="ng"><circle cx="1238" cy="540" r="17"/><text class="lab lm" x="1197" y="449" textLength="137" lengthAdjust="spacingAndGlyphs">biggs, d.</text></g>
<g id="n-lambert" class="ng"><circle cx="562" cy="478" r="14"/><circle cx="587" cy="520" r="12"/><text class="lab lm" x="467" y="491" textLength="199" lengthAdjust="spacingAndGlyphs">lambert, j.h.</text></g>
<g id="n-tierney" class="ng"><circle cx="844" cy="474" r="18"/><text class="lab lm" x="745" y="489" textLength="195" lengthAdjust="spacingAndGlyphs">tierney, k.j.</text></g>
<g id="n-g16" class="ng"><circle cx="616" cy="620" r="22"/></g>
<g id="n-seville" class="ng"><circle cx="1060" cy="602" r="17"/><circle cx="969" cy="649" r="18"/><circle cx="1118" cy="648" r="26"/><circle cx="1150" cy="590" r="55"/><text class="lab lx" x="1035" y="597" textLength="216" lengthAdjust="spacingAndGlyphs">seville, e.</text></g>
<g id="n-ringle" class="ng"><circle cx="1437" cy="590" r="11"/><text class="lab lm" x="1358" y="592" textLength="166" lengthAdjust="spacingAndGlyphs">ringle, c.m.</text></g>
<g id="n-rose" class="ng"><circle cx="803" cy="584" r="12"/><text class="lab lm" x="749" y="607" textLength="120" lengthAdjust="spacingAndGlyphs">rose, a.</text></g>
<g id="n-chang" class="ng"><circle cx="790" cy="660" r="20"/><text class="lab lm" x="691" y="674" textLength="187" lengthAdjust="spacingAndGlyphs">chang, s.e.</text></g>
<g id="n-lee-av" class="ng"><circle cx="1263" cy="687" r="11"/><text class="lab lm" x="1205" y="692" textLength="124" lengthAdjust="spacingAndGlyphs">lee, a.v.</text></g>
<g id="n-g22" class="ng"><circle cx="1242" cy="749" r="20"/></g>
<g id="n-bruneau" class="ng"><circle cx="819" cy="763" r="18"/><text class="lab lm" x="716" y="768" textLength="203" lengthAdjust="spacingAndGlyphs">bruneau, m.</text></g>
<g id="n-hair" class="ng"><circle cx="1433" cy="771" r="12"/><text class="lab lm" x="1379" y="786" textLength="125" lengthAdjust="spacingAndGlyphs">hair, j.f.</text></g>
<g id="n-g26" class="ng"><circle cx="779" cy="811" r="18"/></g>
<g id="n-g27" class="ng"><circle cx="912" cy="830" r="16"/></g>
<g id="n-stafford" class="nr"><circle cx="995" cy="753" r="16"/><circle cx="1047" cy="746" r="14"/><text class="lab ls" x="977" y="737" textLength="174" lengthAdjust="spacingAndGlyphs">Stafford, k.</text></g>
<g id="n-mcmanus" class="ng"><circle cx="1035" cy="803" r="16" fill="#e64848"/><circle cx="1090" cy="790" r="24"/><text class="lab ll" x="956" y="802" textLength="266" lengthAdjust="spacingAndGlyphs">mcmanus, s.t.</text></g>

<g id="n-walker" class="ny"><circle cx="793" cy="930" r="28"/><circle cx="849" cy="911" r="24"/><circle cx="905" cy="926" r="27"/><circle cx="800" cy="957" r="22"/><text class="lab ll" x="786" y="914" textLength="249" lengthAdjust="spacingAndGlyphs">walker, b.h.</text></g>
<g id="n-carpenter" class="ny"><circle cx="793" cy="999" r="28"/><text class="lab ll" x="652" y="1004" textLength="288" lengthAdjust="spacingAndGlyphs">carpenter, s.r.</text></g>
<g id="n-berkes" class="ny"><circle cx="645" cy="1031" r="18"/><text class="lab lm" x="561" y="1054" textLength="144" lengthAdjust="spacingAndGlyphs">berkes, f.</text></g>
<g id="n-holling" class="ny"><circle cx="772" cy="1056" r="30"/><circle cx="758" cy="1094" r="24"/><circle cx="730" cy="1117" r="20"/><circle cx="849" cy="1094" r="30"/><circle cx="842" cy="1068" r="34"/><text class="lab ll" x="730" y="1106" textLength="240" lengthAdjust="spacingAndGlyphs">holling, c.s.</text></g>

<g id="n-r-misc" class="nr">
<circle cx="1110" cy="923" r="14"/><circle cx="1288" cy="923" r="14"/><circle cx="1328" cy="942" r="12"/>
<circle cx="1064" cy="975" r="14"/><circle cx="1087" cy="985" r="12"/><circle cx="1139" cy="966" r="18"/>
<circle cx="1173" cy="956" r="16"/><circle cx="1305" cy="970" r="14"/><circle cx="1196" cy="1061" r="25"/>
<circle cx="1454" cy="985" r="14"/><circle cx="1518" cy="1013" r="22"/><circle cx="1454" cy="1090" r="26"/>
<circle cx="1340" cy="1100" r="14"/><circle cx="1144" cy="1066" r="14"/><circle cx="966" cy="1133" r="16"/>
<circle cx="932" cy="1176" r="14"/><circle cx="1041" cy="1176" r="14"/><circle cx="1265" cy="1128" r="14"/>
<circle cx="1351" cy="1219" r="12"/><circle cx="1426" cy="1214" r="12"/><circle cx="1311" cy="1262" r="16"/>
<circle cx="1133" cy="1276" r="14"/><circle cx="1334" cy="1286" r="22"/><circle cx="1397" cy="1315" r="14"/>
<circle cx="1472" cy="1329" r="14"/><circle cx="1408" cy="1386" r="16"/><circle cx="1228" cy="1360" r="35"/>
<circle cx="1071" cy="1564" r="20"/><circle cx="963" cy="1406" r="14"/><circle cx="1403" cy="1401" r="22"/>
</g>
<g id="n-teece" class="nr"><text class="lab ls" x="1050" y="921" textLength="186" lengthAdjust="spacingAndGlyphs">Teece, d.j. a</text></g>
<g id="n-lee-jy" class="nr"><circle cx="1460" cy="880" r="16"/><text class="lab lm" x="1397" y="896" textLength="123" lengthAdjust="spacingAndGlyphs">lee, j.y.</text></g>
<g id="n-bhamra" class="nr"><circle cx="1202" cy="1023" r="30"/><text class="lab ll" x="1098" y="1026" textLength="201" lengthAdjust="spacingAndGlyphs">bhamra, r.</text></g>
<g id="n-lengnick-ml" class="nr"><text class="lab ls" x="1470" y="1028" textLength="285" lengthAdjust="spacingAndGlyphs">Lengnick-hall, m.l.</text></g>
<g id="n-beck" class="nr"><circle cx="1408" cy="1042" r="30"/><text class="lab ll" x="1331" y="1065" textLength="192" lengthAdjust="spacingAndGlyphs">beck, t.e.</text></g>
<g id="n-lengnick-ca" class="nr"><text class="lab ls" x="1351" y="1110" textLength="279" lengthAdjust="spacingAndGlyphs">Lengnick-hall, c.a.</text></g>
<g id="n-sheffi" class="nr"><text class="lab ls" x="1018" y="1121" textLength="132" lengthAdjust="spacingAndGlyphs">sheffi, y.</text></g>
<g id="n-linnenluecke" class="nr"><circle cx="1173" cy="1176" r="26"/><text class="lab ll" x="992" y="1172" textLength="373" lengthAdjust="spacingAndGlyphs">linnenluecke, m.k.</text></g>
<g id="n-lim" class="nr"><circle cx="1472" cy="1171" r="16"/><text class="lab lm" x="1457" y="1186" textLength="95" lengthAdjust="spacingAndGlyphs">lim, s.</text></g>
<g id="n-griffiths" class="nr"><circle cx="972" cy="1238" r="18"/><text class="lab lm" x="872" y="1245" textLength="195" lengthAdjust="spacingAndGlyphs">griffiths, a.</text></g>
<g id="n-cameron" class="nr"><circle cx="1552" cy="1257" r="22"/><text class="lab ll" x="1426" y="1280" textLength="255" lengthAdjust="spacingAndGlyphs">cameron, k.s.</text></g>
<g id="n-eisenhardt" class="nr"><text class="lab ls" x="875" y="1310" textLength="258" lengthAdjust="spacingAndGlyphs">eisenhardt, k.m.</text></g>
<g id="n-hamel" class="nr"><circle cx="1259" cy="1310" r="28"/><text class="lab ll" x="1153" y="1318" textLength="172" lengthAdjust="spacingAndGlyphs">hamel, g.</text></g>
<g id="n-boin" class="nr"><circle cx="972" cy="1367" r="16"/><text class="lab ls" x="906" y="1377" textLength="106" lengthAdjust="spacingAndGlyphs">Boin, a.</text></g>
<g id="n-dutton" class="nr"><circle cx="1546" cy="1367" r="18"/><text class="lab lm" x="1452" y="1379" textLength="192" lengthAdjust="spacingAndGlyphs">dutton, j.e.</text></g>
<g id="n-sutcliffe" class="nr"><circle cx="1187" cy="1432" r="60"/><text class="lab lx" x="1000" y="1428" textLength="374" lengthAdjust="spacingAndGlyphs">sutcliffe, k.m.</text></g>
<g id="n-weick" class="nr"><circle cx="1129" cy="1534" r="52"/><text class="lab lx" x="1000" y="1537" textLength="257" lengthAdjust="spacingAndGlyphs">weick, k.e.</text></g>

<g id="n-comfort" class="np"><circle cx="718" cy="1197" r="12"/><text class="lab lm" x="625" y="1208" textLength="198" lengthAdjust="spacingAndGlyphs">comfort, l.k.</text></g>
<g id="n-leveson" class="np"><circle cx="685" cy="1353" r="18"/><text class="lab lm" x="600" y="1363" textLength="178" lengthAdjust="spacingAndGlyphs">leveson, n.</text></g>
<g id="n-hollnagel" class="np"><circle cx="565" cy="1452" r="44"/><circle cx="499" cy="1529" r="50"/><circle cx="399" cy="1577" r="20"/><text class="lab lx" x="352" y="1537" textLength="292" lengthAdjust="spacingAndGlyphs">hollnagel, e.</text></g>
<g id="n-perrow" class="np"><circle cx="835" cy="1483" r="10"/><text class="lab ls" x="762" y="1489" textLength="153" lengthAdjust="spacingAndGlyphs">perrow, c.</text></g>
<g id="n-roberts" class="np"><circle cx="839" cy="1595" r="18"/><text class="lab lm" x="727" y="1602" textLength="214" lengthAdjust="spacingAndGlyphs">roberts, k.h.</text></g>
<g id="n-wears" class="np"><circle cx="290" cy="1718" r="16"/><circle cx="296" cy="1765" r="10"/><text class="lab lm" x="219" y="1771" textLength="162" lengthAdjust="spacingAndGlyphs">wears, r.l.</text></g>

<g id="n-malinen" class="nb"><circle cx="1718" cy="527" r="12"/><circle cx="1771" cy="578" r="13"/><text class="lab ls" x="1632" y="532" textLength="176" lengthAdjust="spacingAndGlyphs">malinen, s.</text></g>
<g id="n-liu" class="nb"><circle cx="1602" cy="885" r="15"/><text class="lab lm" x="1558" y="901" textLength="89" lengthAdjust="spacingAndGlyphs">liu, y.</text></g>
<g id="n-b8" class="nb"><circle cx="1526" cy="1125" r="16"/></g>
<g id="n-luthans" class="nb"><circle cx="1797" cy="958" r="33"/><text class="lab ll" x="1696" y="970" textLength="202" lengthAdjust="spacingAndGlyphs">luthans, f.</text></g>
<g id="n-avey" class="nb"><circle cx="1888" cy="868" r="18"/><circle cx="1939" cy="835" r="12"/><text class="lab lm" x="1868" y="849" textLength="143" lengthAdjust="spacingAndGlyphs">avey, j.b.</text></g>
<g id="n-avolio" class="nb"><circle cx="2033" cy="922" r="17"/><text class="lab lm" x="1952" y="930" textLength="172" lengthAdjust="spacingAndGlyphs">avolio, b.j.</text></g>
<g id="n-podsakoff" class="nb"><circle cx="1796" cy="1062" r="15"/><text class="lab lm" x="1671" y="1070" textLength="262" lengthAdjust="spacingAndGlyphs">podsakoff, p.m.</text></g>
<g id="n-bakker" class="nb"><circle cx="3084" cy="1062" r="18"/><text class="lab lm" x="2976" y="1073" textLength="210" lengthAdjust="spacingAndGlyphs">bakker, a.b.</text></g>
<g id="n-martinez" class="nb"><circle cx="3391" cy="1152" r="15"/><circle cx="3486" cy="1170" r="17"/><text class="lab ls" x="3267" y="1160" textLength="215" lengthAdjust="spacingAndGlyphs">martinez, a.b.</text></g>
<g id="n-salanova" class="nb"><circle cx="3666" cy="1115" r="28"/><circle cx="3632" cy="1155" r="36"/><circle cx="3761" cy="1170" r="28"/><text class="lab lx" x="3494" y="1179" textLength="276" lengthAdjust="spacingAndGlyphs">salanova, m.</text></g>
</g>

<g id="clusters">
<ellipse class="hull" cx="1014" cy="511" rx="605" ry="368" transform="rotate(5.7 1014 511)" stroke="#4f7a33"/>
<ellipse class="hull" cx="2644" cy="953" rx="1187" ry="475" transform="rotate(11.6 2644 953)" stroke="#3e63a8"/>
<ellipse class="hull" cx="805" cy="985" rx="197" ry="178" stroke="#c9a224"/>
<ellipse class="hull" cx="1246" cy="1218" rx="371" ry="418" stroke="#e01f1f"/>
<ellipse class="hull" cx="550" cy="1515" rx="365" ry="408" transform="rotate(32.5 550 1515)" stroke="#5a2d8f"/>
</g>

<g id="titles">
<g id="t-disaster" fill="#5b8e45"><text class="title" x="1334" y="86" textLength="640" lengthAdjust="spacingAndGlyphs">Organizational Resilience</text><text class="title" x="1334" y="166" textLength="624" lengthAdjust="spacingAndGlyphs">in Disaster Management</text></g>
<g id="t-behavior" fill="#3f7fb5"><text class="title" x="2309" y="298">Resilience under</text><text class="title" x="2309" y="377" textLength="952" lengthAdjust="spacingAndGlyphs">Organizational Behavior Perspectives</text></g>
<g id="t-social" fill="#b8962e"><text class="title" x="34" y="881" textLength="608" lengthAdjust="spacingAndGlyphs">Resilience Management</text><text class="title" x="34" y="962" textLength="478" lengthAdjust="spacingAndGlyphs">in Social-ecological</text><text class="title" x="34" y="1041" textLength="187" lengthAdjust="spacingAndGlyphs">System</text></g>
<g id="t-resource" fill="#c41e1e"><text class="title" x="1516" y="1539" textLength="810" lengthAdjust="spacingAndGlyphs">Organizational Resilience under</text><text class="title" x="1516" y="1618" textLength="655" lengthAdjust="spacingAndGlyphs">Resource-based View and</text><text class="title" x="1516" y="1699" textLength="913" lengthAdjust="spacingAndGlyphs">Strategic Management Perspectives</text></g>
<g id="t-engineering" fill="#6e48a6"><text class="title" x="778" y="1881" textLength="569" lengthAdjust="spacingAndGlyphs">Resilience Engineering</text><text class="title" x="778" y="1960" textLength="466" lengthAdjust="spacingAndGlyphs">and System Safety</text></g>
</g>
</svg>
